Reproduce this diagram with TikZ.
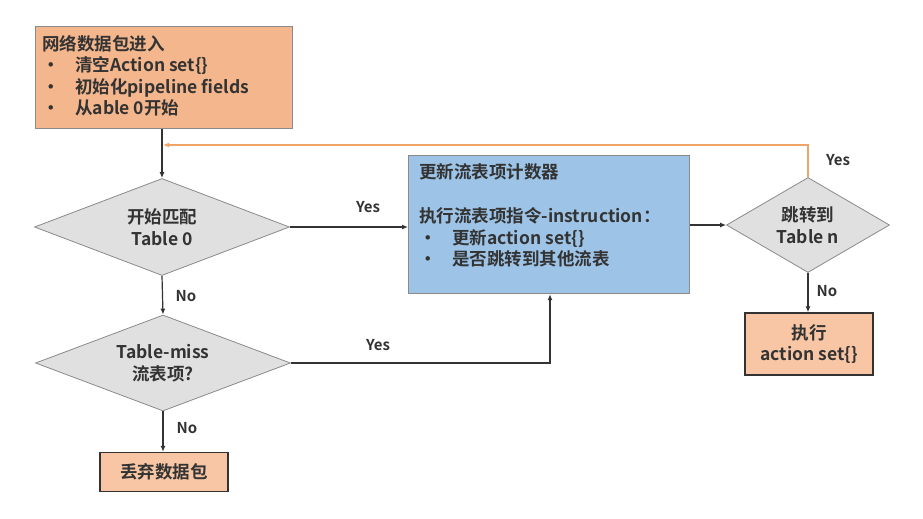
\documentclass[tikz,border=0pt]{standalone}
\usepackage{fontspec}
\setmainfont{Noto Sans CJK SC}[UprightFont=* Bold]
\usetikzlibrary{shapes.geometric,arrows.meta}
\definecolor{orA}{HTML}{F4B68C}
\definecolor{orB}{HTML}{F8C6A4}
\definecolor{blu}{HTML}{9DC3E6}
\definecolor{dgray}{HTML}{E0E0E0}
\definecolor{bgr}{HTML}{8A8A8A}
\definecolor{lin}{HTML}{333333}
\definecolor{orl}{HTML}{F0A468}
\begin{document}
\begin{tikzpicture}[x=1pt,y=-1pt,
  font=\fontsize{17.5}{21.5}\selectfont,
  endbox/.style={draw=lin,line width=1.4pt,fill=orB,align=center,inner sep=0pt,text=lin},
  dia/.style={diamond,draw=bgr,fill=dgray,line width=0.8pt,aspect=2.6,inner sep=0pt,align=center,text=lin},
  conn/.style={draw=lin,line width=1.2pt,-{Latex[length=6pt,width=5pt]}},
  lbl/.style={font=\fontsize{15}{17}\selectfont,text=lin}]
\useasboundingbox (0,0) rectangle (923,519);
% top box
\node[draw=bgr,line width=1.2pt,fill=orA,minimum width=257pt,minimum height=102pt,anchor=north west] (start) at (35,26) {};
\node[anchor=north west,align=left,inner sep=0pt,text=lin] (starttxt) at (42,35) {网络数据包进入\\
\makebox[33pt][l]{•}清空Action set\{\}\\
\makebox[33pt][l]{•}初始化pipeline fields\\
\makebox[33pt][l]{•}从able 0开始};
% diamonds
\node[dia,minimum width=255pt,minimum height=97pt] (d1) at (162,227) {开始匹配\\Table 0};
\node[dia,minimum width=255pt,minimum height=96pt] (d2) at (163,363) {Table-miss\\流表项?};
\node[dia,minimum width=163pt,minimum height=95pt] (d3) at (808,225) {跳转到\\Table n};
% end boxes
\node[endbox,minimum width=128pt,minimum height=39pt] (drop) at (164,472) {丢弃数据包};
\node[endbox,minimum width=128pt,minimum height=62pt] (exec) at (809,344) {执行\\action set\{\}};
% blue box
\node[draw=bgr,line width=1.2pt,fill=blu,minimum width=281pt,minimum height=138pt,anchor=north west] (upd) at (408,155) {};
\node[anchor=north west,align=left,inner sep=0pt,text=lin] (updtxt) at (419,163) {更新流表项计数器\\[23pt]
执行流表项指令-instruction：\\
\makebox[33pt][l]{•}更新action set\{\}\\
\makebox[33pt][l]{•}是否跳转到其他流表};
% connectors
\draw[conn] (start.south -| d1.north) -- (d1.north);
\draw[conn] (d1.east) -- (d1.east -| upd.west);
\draw[conn] (d1.south) -- (d2.north);
\draw[conn] (d2.south) -- (drop.north -| d2.south);
\coordinate (c2) at (550,363);
\draw[conn] (d2.east) -- (c2) -- (c2 |- upd.south);
\draw[conn] (upd.east |- d3.west) -- (d3.west);
\draw[conn] (d3.south) -- (d3.south |- exec.north);
\coordinate (fb1) at (808,145);
\coordinate (fb2) at (163,145);
\draw[draw=orl,line width=1.2pt,-{Latex[length=6pt,width=5pt]}] (d3.north) -- (fb1) -- (fb2);
% labels
\node[lbl] (y1) at (368,207) {Yes};
\node[lbl] (n1) at (186,296) {No};
\node[lbl] (y2) at (378,345) {Yes};
\node[lbl] (n2) at (187,428) {No};
\node[lbl] (n3) at (827,291) {No};
\node[lbl] (y3) at (838,160) {Yes};
\end{tikzpicture}
\end{document}
